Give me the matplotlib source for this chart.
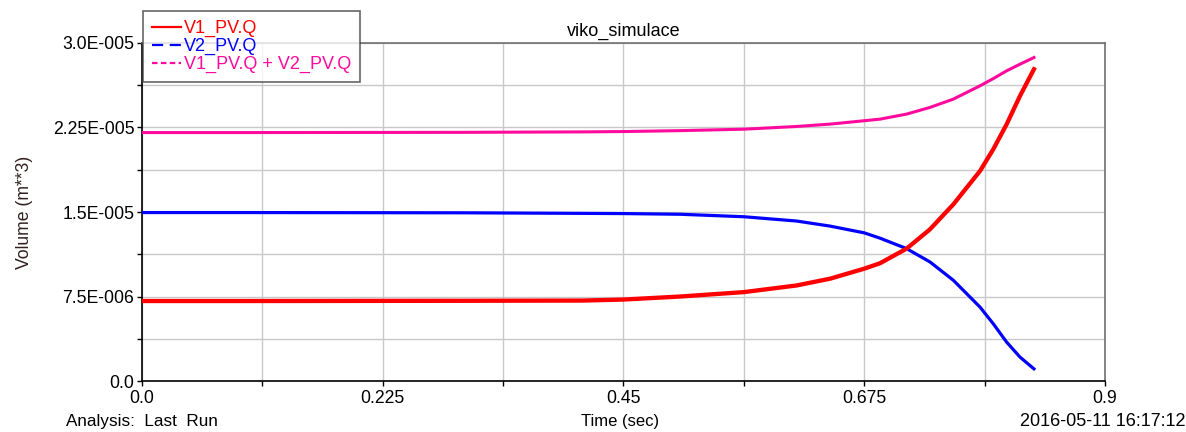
import numpy as np
import matplotlib
matplotlib.use("Agg")
import matplotlib.pyplot as plt
from matplotlib.lines import Line2D
from matplotlib.ticker import MultipleLocator, FixedLocator, FixedFormatter

plt.rcParams['font.family'] = ['Liberation Sans', 'DejaVu Sans']

## Data (volume in 1e-6 m**3)
t = [0.0, 0.1, 0.2, 0.3, 0.4112, 0.45, 0.503, 0.5625, 0.6117, 0.643, 0.675,
     0.6897, 0.7146, 0.7364, 0.7583, 0.7832, 0.7956, 0.8081, 0.8206, 0.8336]
v1 = [7.10, 7.10, 7.11, 7.12, 7.14, 7.23, 7.50, 7.89, 8.48, 9.08, 9.97,
      10.45, 11.75, 13.46, 15.68, 18.64, 20.57, 22.79, 25.31, 27.67]
v2 = [14.95, 14.95, 14.94, 14.93, 14.88, 14.86, 14.80, 14.58, 14.20, 13.75, 13.15,
      12.68, 11.75, 10.57, 8.94, 6.56, 5.08, 3.45, 2.12, 1.08]
v_sum = [22.05, 22.05, 22.06, 22.07, 22.11, 22.14, 22.22, 22.35, 22.59, 22.80, 23.10,
         23.24, 23.69, 24.28, 25.02, 26.20, 26.84, 27.53, 28.12, 28.71]
scale = 1e-6

series_names = ['V1_PV.Q', 'V2_PV.Q', 'V1_PV.Q + V2_PV.Q']
series_colors = ['#ff0000', '#0000ff', '#ff0a9c']

x_ticks = [0.0, 0.225, 0.45, 0.675, 0.9]
x_labels = ['0.0', '0.225', '0.45', '0.675', '0.9']
y_ticks = [0.0, 7.5e-6, 15e-6, 22.5e-6, 30e-6]
y_labels = ['0.0', '7.5E-006', '1.5E-005', '2.25E-005', '3.0E-005']

## Plot
fig = plt.figure(figsize=(11.86, 4.32), dpi=100)
ax = fig.add_axes([0.1197, 0.118, 0.812, 0.7825])

tt = np.array(t)
ax.plot(tt, np.array(v_sum) * scale, color=series_colors[2], lw=2.2, zorder=3)
ax.plot(tt, np.array(v2) * scale, color=series_colors[1], lw=2.3, zorder=4)
ax.plot(tt, np.array(v1) * scale, color=series_colors[0], lw=3.1, zorder=5)

ax.set_xlim(0, 0.9)
ax.set_ylim(0, 3.0e-5)

ax.xaxis.set_major_locator(FixedLocator(x_ticks))
ax.xaxis.set_major_formatter(FixedFormatter(x_labels))
ax.xaxis.set_minor_locator(MultipleLocator(0.1125))
ax.yaxis.set_major_locator(FixedLocator(y_ticks))
ax.yaxis.set_major_formatter(FixedFormatter(y_labels))
ax.yaxis.set_minor_locator(MultipleLocator(3.75e-6))

ax.tick_params(which='both', direction='out', length=3.5, width=1, colors='black',
               labelsize=12.7, top=False, right=False)
ax.tick_params(axis='x', pad=3)
ax.tick_params(axis='y', pad=2)
ax.grid(True, which='both', color='#c8c8c8', lw=1, zorder=0)
ax.set_axisbelow(True)

for s in ['left', 'bottom']:
    ax.spines[s].set_color('black')
    ax.spines[s].set_linewidth(1.2)
for s in ['top', 'right']:
    ax.spines[s].set_color('#707070')
    ax.spines[s].set_linewidth(1.2)

ax.set_title('viko_simulace', fontsize=13, pad=5)
ax.set_ylabel('Volume (m**3)', fontsize=12.7, labelpad=14, color='#302020')
fig.text(0.523, 0.014, 'Time (sec)', fontsize=12, ha='center')
fig.text(0.056, 0.014, 'Analysis:  Last  Run', fontsize=12.3, ha='left')
fig.text(1.0, 0.014, '2016-05-11 16:17:12', fontsize=13, ha='right')

# legend handles in the styles shown in the key
handles = [
    Line2D([], [], color=series_colors[0], lw=1.6, ls='-'),
    Line2D([], [], color=series_colors[1], lw=1.6, ls=(0, (5, 3))),
    Line2D([], [], color=series_colors[2], lw=1.6, ls=(0, (2.5, 1.5))),
]
leg = fig.legend(handles, series_names, loc='upper left',
                 bbox_to_anchor=(0.1206, 0.9745), fontsize=13,
                 frameon=True, fancybox=False, edgecolor='#404040',
                 handlelength=1.6, handletextpad=0.15, labelspacing=0.05,
                 borderpad=0.5, borderaxespad=0)
leg.get_frame().set_linewidth(1.2)
for txt, c in zip(leg.get_texts(), series_colors):
    txt.set_color(c)

fig.savefig('out.png', dpi=100)
